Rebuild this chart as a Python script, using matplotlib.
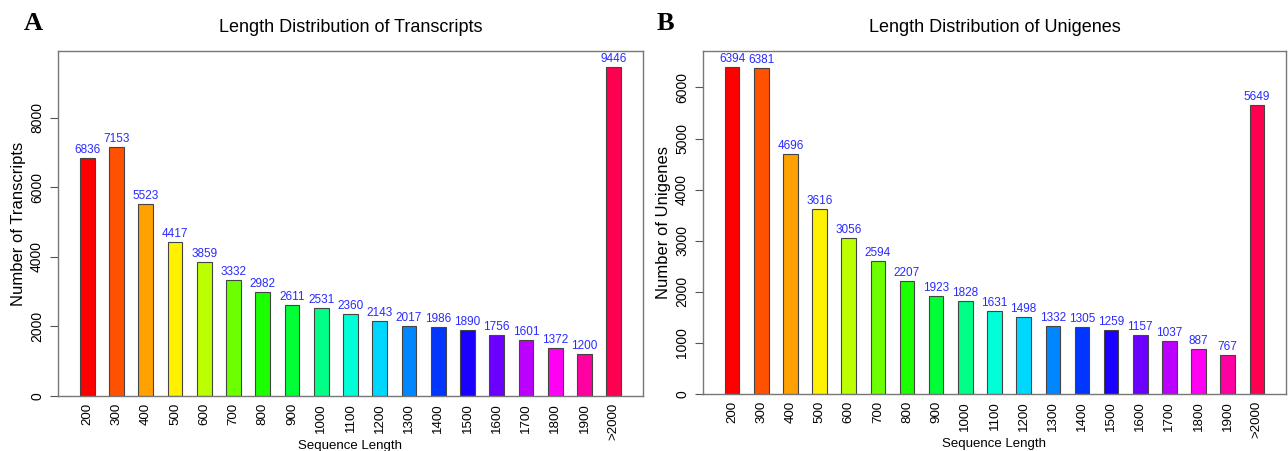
import matplotlib
matplotlib.use("Agg")
import matplotlib.pyplot as plt
import colorsys

categories = ["200", "300", "400", "500", "600", "700", "800", "900", "1000", "1100",
              "1200", "1300", "1400", "1500", "1600", "1700", "1800", "1900", ">2000"]
transcripts = [6836, 7153, 5523, 4417, 3859, 3332, 2982, 2611, 2531, 2360,
               2143, 2017, 1986, 1890, 1756, 1601, 1372, 1200, 9446]
unigenes = [6394, 6381, 4696, 3616, 3056, 2594, 2207, 1923, 1828, 1631,
            1498, 1332, 1305, 1259, 1157, 1037, 887, 767, 5649]
yticks_a = [0, 2000, 4000, 6000, 8000]
yticks_b = [0, 1000, 2000, 3000, 4000, 5000, 6000]

plt.rcParams['font.family'] = ['Liberation Sans', 'DejaVu Sans']

n = len(categories)
colors = [colorsys.hsv_to_rgb(i / n, 1, 1) for i in range(n)]

fig = plt.figure(figsize=(12.88, 4.51), dpi=100)
W, H = 1288, 451

def make_ax(left, top, right, bottom):
    return fig.add_axes([left / W, 1 - bottom / H, (right - left) / W, (bottom - top) / H])

panels = [
    (make_ax(58, 51, 643, 396), transcripts, yticks_a, "Number of Transcripts",
     "Length Distribution of Transcripts", "A", 33),
    (make_ax(703, 51, 1286, 394), unigenes, yticks_b, "Number of Unigenes",
     "Length Distribution of Unigenes", "B", 665),
]

for ax, vals, yt, ylab, title, letter, lx in panels:
    x = list(range(n))
    ax.bar(x, vals, width=0.5, color=colors, edgecolor='#444444', linewidth=0.8)
    top = max(vals) * 1.05
    ax.set_ylim(0, top)
    ax.set_xlim(-1, n)
    for xi, v in zip(x, vals):
        ax.text(xi, v + top * 0.006, str(v), ha='center', va='bottom',
                fontsize=8.5, color='#2a2aff')
    ax.set_yticks(yt)
    ax.set_yticklabels([str(t) for t in yt], rotation=90, va='center', fontsize=10)
    ax.set_xticks(x)
    ax.set_xticklabels(categories, rotation=90, fontsize=9.6)
    ax.tick_params(axis='x', length=0, pad=5)
    ax.tick_params(axis='y', length=6, width=0.8, color='#555555', pad=4)
    for s in ax.spines.values():
        s.set_color('#777777')
        s.set_linewidth(1.0)
    ax.set_ylabel(ylab, fontsize=12, labelpad=3)
    ax.set_xlabel("Sequence Length", fontsize=9.5, labelpad=0)
    ax.set_title(title, fontsize=13, pad=14)
    fig.text(lx / W, 1 - 23 / H, letter, fontsize=19, fontweight='bold',
             family='Liberation Serif', ha='center', va='center')

fig.savefig("out.png", dpi=100)
